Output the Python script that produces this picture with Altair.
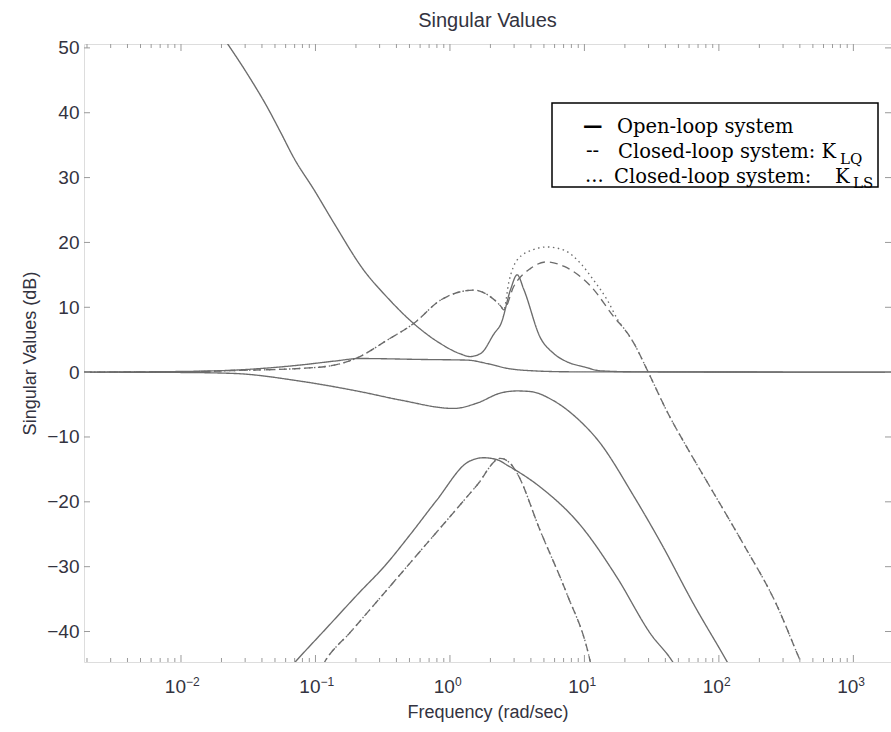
import altair as alt
import pandas as pd

# ---------------- data (frequency in rad/s, value in dB)
# Open-loop system (solid)
ol1_w = [0.0200, 0.0309, 0.0437, 0.0550, 0.0692, 0.0977, 0.138, 0.229, 0.339, 0.537, 0.851, 1.20, 1.41,
         1.70, 2.14, 2.40, 2.82, 3.16, 3.55, 4.68, 5.89, 7.41, 10.0, 13.2, 22.9, 1905]
ol1_db = [52.0, 46.1, 40.9, 37.0, 33.0, 28.1, 22.9, 15.7, 11.6, 7.5, 4.4, 2.8, 2.4,
          2.9, 6.0, 7.5, 12.7, 15.0, 12.7, 5.4, 2.9, 1.6, 0.8, 0.2, 0.05, 0.0]
ol2_w = [0.0019, 0.01, 0.0245, 0.0776, 0.138, 0.214, 0.631, 1.35, 1.91, 2.69, 4.17, 7.94, 1905]
ol2_db = [0.0, 0.1, 0.3, 1.1, 1.7, 2.1, 1.95, 1.85, 1.3, 0.57, 0.2, 0.05, 0.0]
ol3_w = [0.0019, 0.01, 0.0245, 0.0776, 0.214, 0.427, 1.07, 1.58, 2.40, 3.16, 3.98, 5.89, 8.91,
         12.6, 23.4, 37.2, 64.6, 117.5, 141]
ol3_db = [0.0, -0.05, -0.2, -1.4, -3.0, -4.3, -5.6, -4.8, -3.2, -2.9, -3.0, -4.4, -7.2,
          -10.5, -19.2, -26.4, -35.7, -45.0, -48.0]
ol4_w = [0.0562, 0.0692, 0.123, 0.214, 0.324, 0.513, 0.794, 1.38, 1.78, 2.24, 2.69, 4.68, 9.33,
         17.4, 30.9, 45.7, 52.5]
ol4_db = [-47.0, -44.9, -39.3, -33.9, -30.0, -24.9, -19.8, -13.8, -13.2, -13.5, -14.4, -17.7, -23.6,
          -31.6, -40.3, -44.8, -47.0]

# Closed-loop system K_LQ (dashed)
klq_hi_w = [0.0019, 0.01, 0.0245, 0.0776, 0.138, 0.214, 0.339, 0.537, 0.851, 1.20, 1.51, 1.91, 2.40,
            2.51, 2.98, 3.98, 5.25, 7.08, 11.2, 16.6, 20.9, 23.4, 29.5, 41.7, 61.7, 87.1, 151, 269, 407, 457]
klq_hi_db = [0.0, 0.05, 0.25, 0.57, 1.08, 2.4, 4.9, 7.5, 11.1, 12.4, 12.65, 11.9, 10.1,
             9.6, 13.2, 16.0, 17.0, 16.3, 13.2, 8.5, 6.0, 4.4, 0.2, -6.3, -12.6, -17.9, -26.4, -35.9, -44.7, -47.0]
klq_lo_w = [0.102, 0.117, 0.182, 0.363, 0.631, 1.0, 1.58, 2.37, 2.82, 3.16, 4.68, 7.41, 10.7, 11.7]
klq_lo_db = [-47.0, -44.7, -40.1, -32.9, -27.1, -22.3, -17.5, -13.3, -14.1, -15.6, -24.4, -34.2, -43.4, -47.0]

# Closed-loop system K_LS (dotted)
kls_hi_w = [0.0019, 0.01, 0.0245, 0.0776, 0.138, 0.214, 0.339, 0.537, 0.851, 1.20, 1.51, 1.91, 2.40,
            2.51, 2.75, 3.16, 4.17, 5.25, 7.08, 9.33, 11.7, 14.8, 17.8, 20.9, 23.4, 29.5, 41.7, 61.7,
            87.1, 151, 269, 407, 457]
kls_hi_db = [0.0, 0.05, 0.25, 0.57, 1.08, 2.4, 4.9, 7.5, 11.1, 12.4, 12.65, 11.9, 10.1,
             9.6, 14.0, 17.3, 18.9, 19.3, 18.8, 16.8, 14.2, 11.1, 8.0, 6.0, 4.4, 0.2, -6.3, -12.6,
             -17.9, -26.4, -35.9, -44.7, -47.0]
kls_lo_w = [0.102, 0.117, 0.182, 0.363, 0.631, 1.0, 1.58, 2.37, 2.82, 3.16, 4.68, 7.41, 10.7, 11.7]
kls_lo_db = [-47.0, -44.7, -40.1, -32.9, -27.1, -22.3, -17.5, -13.3, -14.1, -15.6, -24.4, -34.2, -43.4, -47.0]

# axes
x_domain = [0.0019, 1905]
y_domain = [-44.7, 50.6]
y_ticks = [-40, -30, -20, -10, 0, 10, 20, 30, 40, 50]
x_decades = [0.01, 0.1, 1, 10, 100, 1000]
x_exponents = ["\u22122", "\u22121", "0", "1", "2", "3"]
x_minor = [m * 10.0 ** e for e in range(-3, 4) for m in range(2, 10)
           if x_domain[0] <= m * 10.0 ** e <= x_domain[1]]

title_text = "Singular Values"
x_title = "Frequency (rad/sec)"
y_title = "Singular Values (dB)"

W, H = 807, 618
LINE = "#6c6c6c"
AX = "#9a9a9a"
TXT = "#333340"
SANS = "Liberation Sans"
SERIF = "DejaVu Serif"

# ---------------- tidy table
rows = []
def add(name, system, ws, ds):
    for w, d in zip(ws, ds):
        rows.append({"w": w, "db": d, "curve": name, "system": system})

add("ol1", "open", ol1_w, ol1_db)
add("ol2", "open", ol2_w, ol2_db)
add("ol3", "open", ol3_w, ol3_db)
add("ol4", "open", ol4_w, ol4_db)
add("klq_hi", "klq", klq_hi_w, klq_hi_db)
add("klq_lo", "klq", klq_lo_w, klq_lo_db)
add("kls_hi", "kls", kls_hi_w, kls_hi_db)
add("kls_lo", "kls", kls_lo_w, kls_lo_db)
df = pd.DataFrame(rows)

xs = alt.Scale(type="log", domain=x_domain, nice=False)
ys = alt.Scale(domain=y_domain, nice=False, zero=False)

x_axis = alt.Axis(labels=False, ticks=False, domain=False, grid=False,
                  title=x_title, titleFont=SANS, titleFontSize=18,
                  titleFontWeight="normal", titleColor=TXT,
                  titleX=W / 2, titleY=50, titleBaseline="middle", titleAlign="center")
y_axis = alt.Axis(values=y_ticks, ticks=False, domain=False, grid=False,
                  labelFont=SANS, labelFontSize=19, labelColor=TXT, labelPadding=5,
                  title=y_title, titleFont=SANS, titleFontSize=18, titleFontWeight="normal",
                  titleColor=TXT, titleX=-54, titleY=H / 2, titleAngle=270,
                  titleBaseline="middle", titleAlign="center")

lines = alt.Chart(df).mark_line(clip=True, strokeWidth=1.35, color=LINE,
                                interpolate="monotone").encode(
    x=alt.X("w:Q", scale=xs, axis=x_axis, title=x_title),
    y=alt.Y("db:Q", scale=ys, axis=y_axis, title=y_title),
    detail="curve:N",
    strokeDash=alt.StrokeDash("system:N", scale=alt.Scale(domain=["open", "klq", "kls"],
                                                           range=[[1, 0], [8, 5], [1.5, 3.5]]),
                              legend=None),
)

ydf = pd.DataFrame({"db": y_ticks})
majdf = pd.DataFrame({"w": x_decades, "e": x_exponents})
mindf = pd.DataFrame({"w": x_minor})

def yt(x0, x1):
    return alt.Chart(ydf).mark_rule(color=AX, strokeWidth=1).encode(
        y=alt.Y("db:Q", scale=ys, axis=y_axis, title=y_title), x=alt.value(x0), x2=alt.value(x1))

def xt(d, y0, y1):
    return alt.Chart(d).mark_rule(color=AX, strokeWidth=1).encode(
        x=alt.X("w:Q", scale=xs, axis=x_axis, title=x_title), y=alt.value(y0), y2=alt.value(y1))

ticks = [yt(0, 6), yt(W - 6, W),
         xt(majdf, H, H - 7), xt(majdf, 0, 7), xt(mindf, H, H - 4), xt(mindf, 0, 4)]

ten = alt.Chart(majdf).mark_text(align="right", baseline="alphabetic", dx=5, font=SANS,
                                 fontSize=19, color=TXT).encode(
    x=alt.X("w:Q", scale=xs, axis=x_axis, title=x_title), y=alt.value(H + 31), text=alt.value("10"))
expo = alt.Chart(majdf).mark_text(align="left", baseline="alphabetic", dx=5, font=SANS,
                                  fontSize=12, color=TXT).encode(
    x=alt.X("w:Q", scale=xs, axis=x_axis, title=x_title), y=alt.value(H + 23.5), text="e:N")

one = pd.DataFrame({"a": [0]})
title = alt.Chart(one).mark_text(font=SANS, fontSize=20, color=TXT, baseline="middle").encode(
    x=alt.value(W / 2), y=alt.value(-23), text=alt.value(title_text))

# legend box (annotation)
box = alt.Chart(one).mark_rect(fill="white", stroke="black", strokeWidth=1.5).encode(
    x=alt.value(468), x2=alt.value(794), y=alt.value(59), y2=alt.value(143))

def ltext(txt, x, y, size=19.5, weight="normal"):
    return alt.Chart(one).mark_text(align="left", baseline="alphabetic", font=SERIF,
                                    fontSize=size, color="black", fontWeight=weight).encode(
        x=alt.value(x), y=alt.value(y), text=alt.value(txt))

legend = [
    box,
    ltext("\u2014", 499, 88, 19.5, "bold"),
    ltext("Open-loop system", 533, 89),
    ltext("--", 502, 113),
    ltext("Closed-loop system: K", 534, 114),
    ltext("LQ", 756, 120, 15),
    ltext("...", 501, 138),
    ltext("Closed-loop system:", 530, 139),
    ltext("K", 751, 139),
    ltext("LS", 769, 144, 15),
]

chart = alt.layer(lines, *ticks, ten, expo, title, *legend).properties(
    width=W, height=H,
    autosize=alt.AutoSizeParams(type="none"),
    padding={"left": 84, "top": 44, "right": 0, "bottom": 70},
).configure_view(stroke=AX, strokeWidth=2).configure(background="white")

chart.save("out.html", embed_options={"renderer": "svg", "actions": False})
